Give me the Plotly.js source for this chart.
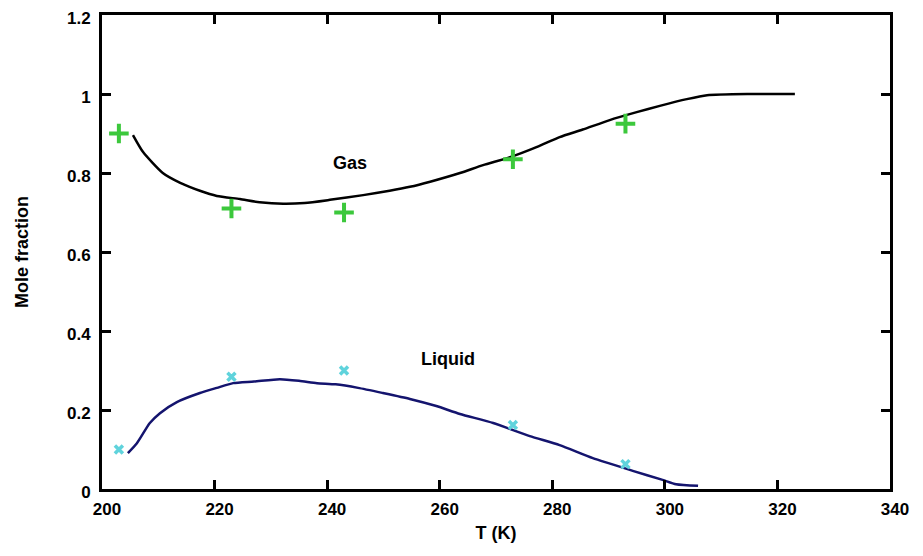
<!DOCTYPE html>
<html>
<head>
<meta charset="utf-8">
<script src="https://cdn.plot.ly/plotly-3.0.1.min.js"></script>
<style>html,body{margin:0;padding:0;background:#fff;}#chart{width:923px;height:556px;}</style>
</head>
<body>
<div id="chart"></div>
<script>
// Measured points
const measT = [203, 223, 243, 273, 293];
const gasMeas = [0.90, 0.71, 0.70, 0.835, 0.925];
const liqMeas = [0.10, 0.284, 0.30, 0.162, 0.063];

// Model curves
const gasCurveT = [205.5, 207.3, 210.8, 213.9, 217.4, 220.4, 224.5, 228, 232.2, 236, 240.5, 246.4, 251.1, 254.7, 258.3, 263.6, 267.7, 272.5, 277.3, 281.3, 285.4, 290.2, 295, 299.1, 303.9, 307.5, 315, 323.1];
const gasCurveY = [0.896, 0.853, 0.80, 0.775, 0.755, 0.742, 0.734, 0.726, 0.722, 0.724, 0.732, 0.744, 0.755, 0.765, 0.778, 0.80, 0.82, 0.84, 0.866, 0.891, 0.91, 0.934, 0.954, 0.97, 0.987, 0.997, 1.0, 1.0];
const liqCurveT = [204.6, 206.2, 208.5, 210.3, 213.3, 217.4, 220.4, 223.3, 227, 231.6, 235, 238.2, 241.5, 245.5, 249.9, 254.7, 259.4, 263.6, 269.5, 276, 281.3, 287.2, 294.3, 299.6, 302, 305.9];
const liqCurveY = [0.091, 0.116, 0.167, 0.192, 0.22, 0.243, 0.256, 0.268, 0.272, 0.278, 0.274, 0.268, 0.265, 0.256, 0.243, 0.228, 0.21, 0.19, 0.167, 0.134, 0.111, 0.078, 0.046, 0.023, 0.012, 0.008];

// Labels
const labelText = ["Gas", "Liquid"];
const labelT = [244, 261.5];
const labelY = [0.825, 0.328];

const font = "Liberation Sans, Arial, sans-serif";

const traces = [
  {x: gasCurveT, y: gasCurveY, mode: 'lines', line: {color: '#000000', width: 2.5, shape: 'spline', smoothing: 0.6}, hoverinfo: 'skip'},
  {x: liqCurveT, y: liqCurveY, mode: 'lines', line: {color: '#14146e', width: 2.5, shape: 'spline', smoothing: 0.6}, hoverinfo: 'skip'},
  {x: measT, y: gasMeas, mode: 'markers', marker: {symbol: 'cross-thin', size: 14, color: '#3cc83c', line: {color: '#3cc83c', width: 4}}},
  {x: measT, y: liqMeas, mode: 'markers', marker: {symbol: 'x-thin', size: 8, color: '#5fd3dc', line: {color: '#5fd3dc', width: 3.5}}}
];

const layout = {
  width: 923, height: 556,
  margin: {l: 102, r: 33, t: 15, b: 67},
  paper_bgcolor: '#ffffff', plot_bgcolor: '#ffffff',
  showlegend: false,
  font: {family: font, color: '#000', size: 16},
  xaxis: {
    range: [200, 340], dtick: 20, tick0: 200,
    showgrid: false, zeroline: false,
    showline: true, linecolor: '#000', linewidth: 3, mirror: 'ticks',
    ticks: 'inside', ticklen: 9, tickwidth: 3, tickcolor: '#000',
    ticklabelstandoff: 3, ticklabelshift: 5,
    tickfont: {family: font, size: 17, weight: 'bold'},
    title: {text: '<b>T (K)</b>', font: {family: font, size: 18}, standoff: 8}
  },
  yaxis: {
    range: [0, 1.2], dtick: 0.2, tick0: 0,
    showgrid: false, zeroline: false,
    showline: true, linecolor: '#000', linewidth: 3, mirror: 'ticks',
    ticks: 'inside', ticklen: 9, tickwidth: 3, tickcolor: '#000',
    ticklabelstandoff: 5, ticklabelshift: 3,
    tickfont: {family: font, size: 17, weight: 'bold'},
    title: {text: '<b>Mole fraction</b>', font: {family: font, size: 18}, standoff: 34}
  },
  annotations: labelText.map((t, i) => ({
    x: labelT[i], y: labelY[i], xref: 'x', yref: 'y', text: '<b>' + t + '</b>',
    showarrow: false, font: {family: font, size: 18, color: '#000'}
  }))
};

Plotly.newPlot('chart', traces, layout, {staticPlot: true, displayModeBar: false});
</script>
</body>
</html>
